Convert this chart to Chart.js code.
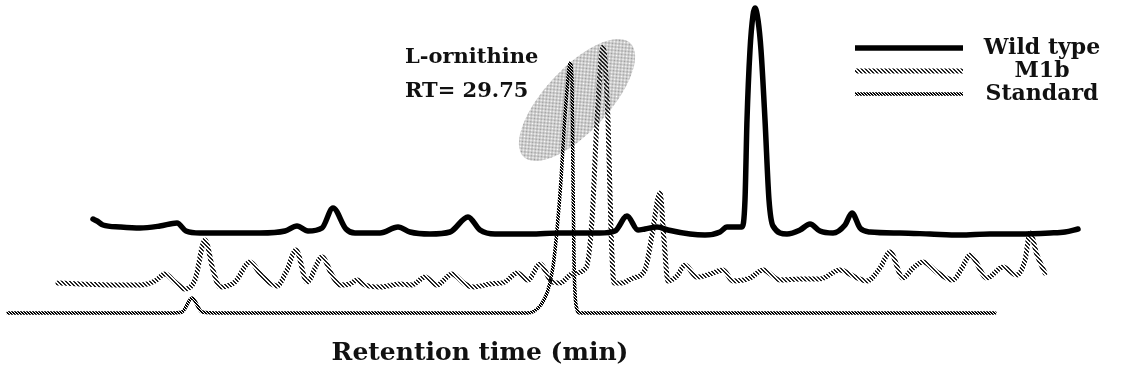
<!DOCTYPE html>
<html>
<head>
<meta charset="utf-8">
<script src="https://cdn.jsdelivr.net/npm/chart.js@4/dist/chart.umd.min.js"></script>
<style>
  html, body { margin: 0; padding: 0; background: #fff; }
  #wrap { width: 1129px; height: 383px; }
</style>
</head>
<body>
<div id="wrap"><canvas id="c" width="1129" height="383"></canvas></div>
<script>
// ---- data (x: retention axis units, y: detector response units, traces offset) ----
const seriesNames = ['Wild type', 'M1b', 'Standard'];

const wildX = [93,97,103,120,140,160,177,186,200,230,260,285,297,308,322,333,346,355,380,398,410,430,450,468,480,495,530,560,600,615,627,638,645,657,668,690,705,720,727,742,745,747,750,753,755,758,761,765,769,773,787,800,810,820,833,845,852,860,870,900,930,960,990,1020,1050,1065,1078];
const wildY = [111,109,105,103,102,104,107,99,97,97,97,99,104,99,102,122,101,97,97,103,98,96,98,113,100,96,96,97,97,99,114,100,101,103,100,96,95,98,103,103,130,210,280,315,322,310,280,210,130,104,96,100,106,99,97,105,117,102,98,97,96,95,96,96,97,98,101];

const m1bX = [58,80,110,140,155,165,175,185,195,205,213,220,235,250,262,277,287,296,307,322,332,340,350,357,365,380,400,412,425,437,452,465,473,490,505,517,528,540,552,560,572,586,592,597,603,608,611,614,622,633,645,652,660,664,668,677,685,697,710,723,733,750,763,780,800,820,840,855,867,880,890,903,913,923,938,953,962,970,987,1003,1017,1025,1030,1037,1045];
const m1bY = [47,46,45,45,49,56,48,41,50,90,60,43,48,68,54,44,60,80,48,73,55,45,46,50,45,43,46,45,53,45,56,46,43,46,48,57,50,66,48,47,56,62,110,210,283,210,100,47,47,52,60,95,137,90,49,54,65,53,56,60,49,52,60,50,51,51,60,53,49,62,78,52,62,68,57,50,62,75,52,63,55,70,97,75,57];

const stdX = [8,60,120,170,182,192,202,220,300,400,500,527,540,548,553,557,561,564,567,570,572,573,574,576,580,650,800,900,995];
const stdY = [17,17,17,17,18,32,18,17,17,17,17,17,24,40,63,100,150,200,240,267,250,150,70,25,17,17,17,17,17];

const axisTitle = 'Retention time (min)';
const peakLabel = ['L-ornithine', 'RT= 29.75'];

// ---- styles ----
function makePattern(size, fn, color) {
  const c = document.createElement('canvas');
  c.width = size; c.height = size;
  const g = c.getContext('2d');
  g.fillStyle = color;
  for (let y = 0; y < size; y++) for (let x = 0; x < size; x++) if (fn(x, y)) g.fillRect(x, y, 1, 1);
  return document.getElementById('c').getContext('2d').createPattern(c, 'repeat');
}
const hatchM1b = makePattern(4, (x, y) => ((x - y + 8) % 4) < 2, '#222');
const ropeStd = makePattern(3, (x, y) => ((x - y + 6) % 3) !== 2, '#000');
const dotFill = makePattern(2, (x, y) => (x + y) % 2 === 0, '#999');

const zip = (xs, ys) => xs.map((x, i) => ({ x, y: ys[i] }));

const serif = "'DejaVu Serif', 'Liberation Serif', serif";

const extras = {
  id: 'extras',
  beforeDraw(chart) {
    const ctx = chart.ctx;
    ctx.save();
    ctx.fillStyle = '#fff';
    ctx.fillRect(0, 0, chart.width, chart.height);
    ctx.restore();
  },
  beforeDatasetsDraw(chart) {
    const { ctx, scales: { x, y } } = chart;
    ctx.save();
    ctx.translate(x.getPixelForValue(577), y.getPixelForValue(230));
    ctx.rotate(-47 * Math.PI / 180);
    ctx.beginPath();
    ctx.ellipse(0, 0, 78, 32, 0, 0, Math.PI * 2);
    ctx.fillStyle = dotFill;
    ctx.fill();
    ctx.restore();
  },
  afterDatasetsDraw(chart) {
    const { ctx, scales: { x, y }, chartArea } = chart;
    ctx.save();
    ctx.fillStyle = '#111';
    // peak annotation
    ctx.font = 'bold 21px ' + serif;
    ctx.textAlign = 'left';
    ctx.textBaseline = 'middle';
    ctx.fillText(peakLabel[0], x.getPixelForValue(405), 58);
    ctx.fillText(peakLabel[1], x.getPixelForValue(405), 92);
    // legend
    const rows = [48, 71, 94];
    chart.data.datasets.forEach((ds, i) => {
      ctx.beginPath();
      ctx.moveTo(855, rows[i]);
      ctx.lineTo(963, rows[i]);
      ctx.strokeStyle = ds.borderColor;
      ctx.lineWidth = ds.borderWidth;
      ctx.stroke();
      ctx.font = 'bold 22px ' + serif;
      ctx.textAlign = 'center';
      ctx.fillText(ds.label, 1042, rows[i]);
    });
    // axis title
    ctx.font = 'bold 25px ' + serif;
    ctx.textAlign = 'center';
    ctx.fillText(axisTitle, x.getPixelForValue(480), chartArea.bottom + 23);
    ctx.restore();
  }
};

new Chart(document.getElementById('c'), {
  type: 'line',
  data: {
    datasets: [
      { label: seriesNames[0], data: zip(wildX, wildY), borderColor: '#000', borderWidth: 5.5 },
      { label: seriesNames[1], data: zip(m1bX, m1bY), borderColor: hatchM1b, borderWidth: 5 },
      { label: seriesNames[2], data: zip(stdX, stdY), borderColor: ropeStd, borderWidth: 3.5 }
    ]
  },
  options: {
    responsive: false,
    animation: false,
    layout: { padding: { left: 0, right: 0, top: 0, bottom: 53 } },
    elements: {
      point: { radius: 0 },
      line: { cubicInterpolationMode: 'monotone', fill: false, borderJoinStyle: 'round', borderCapStyle: 'round' }
    },
    scales: {
      x: { type: 'linear', min: 0, max: 1129, display: false },
      y: { min: 0, max: 330, display: false }
    },
    plugins: { legend: { display: false }, tooltip: { enabled: false } },
    clip: false
  },
  plugins: [extras]
});
</script>
</body>
</html>
